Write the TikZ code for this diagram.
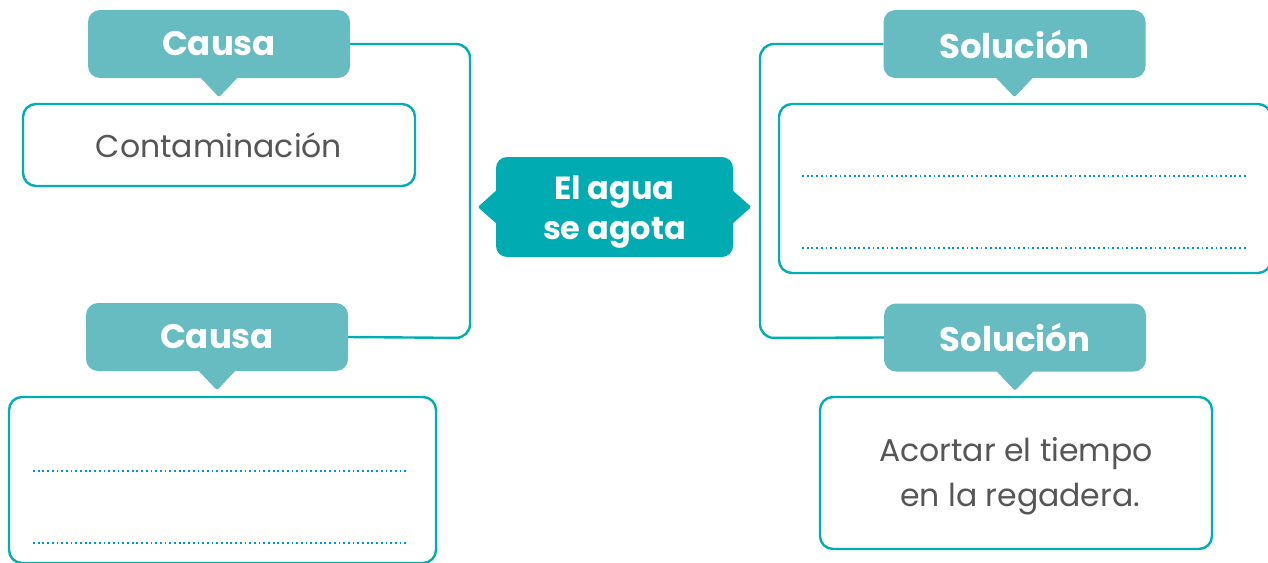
\documentclass[tikz,border=0pt]{standalone}
\usepackage{fontspec}
\setmainfont{Poppins}
\definecolor{tagfill}{RGB}{102,188,192}
\definecolor{teal}{RGB}{0,174,180}
\definecolor{hubfill}{RGB}{0,172,177}
\definecolor{dotblue}{RGB}{0,150,214}
\definecolor{txtgray}{RGB}{85,86,88}
\tikzset{
  tag/.style={fill=tagfill, rounded corners=12pt, minimum width=262pt, minimum height=68pt,
    inner sep=0pt, text=white, font=\fontsize{34}{36}\selectfont\bfseries},
  tagtip/.style={fill=tagfill, rounded corners=2pt},
  box/.style={draw=teal, line width=2.4pt, rounded corners=13pt, fill=white, inner sep=0pt,
    text=txtgray, font=\fontsize{31.5}{45}\selectfont, align=center},
  conn/.style={draw=teal, line width=2.4pt, rounded corners=14pt},
  dotline/.style={draw=dotblue, line width=1.8pt, dash pattern=on 1.8pt off 2.9pt},
  hub/.style={fill=hubfill, rounded corners=11pt, minimum width=237pt, minimum height=100pt,
    inner sep=0pt, text=white, align=center, font=\fontsize{32}{40}\selectfont\bfseries},
  hubtip/.style={fill=hubfill, rounded corners=2pt},
}
\begin{document}
\begin{tikzpicture}[x=1pt,y=-1pt]
\useasboundingbox (0,0) rectangle (1268,562);
\clip (0,0) rectangle (1268,562);
% boxes
\node[box, minimum width=392pt, minimum height=82pt] (b1) at (219,145) {Contaminación};
\node[box, minimum width=427pt, minimum height=166pt] (b2) at (222.5,480) {};
\node[box, minimum width=492pt, minimum height=169pt] (b3) at (1025,188.5) {};
\node[box, minimum width=392pt, minimum height=152pt] (b4) at (1016,473) {\rule{0pt}{31pt}Acortar el tiempo\\\ en la regadera.};
% dotted lines
\draw[dotline] (33,471) -- (409,471);
\draw[dotline] (33,543) -- (409,543);
\draw[dotline] (802,176) -- (1248,176);
\draw[dotline] (802,248) -- (1248,248);
% tags
\node[tag] (c1) at (219,44) {Causa};
\node[tag] (c2) at (217,337) {Causa};
\node[tag] (s1) at (1014.5,44) {Solución};
\node[tag] (s2) at (1015,337.5) {Solución};
\foreach \t in {c1,c2,s1,s2}{
  \fill[tagtip] ([xshift=-19pt,yshift=1pt]\t.south) -- ([yshift=-19pt]\t.south) -- ([xshift=19pt,yshift=1pt]\t.south) -- cycle;
}
% connectors
\coordinate (jl) at (470,338);
\coordinate (jr) at (760,338);
\draw[conn] (c1.east) -| (jl) -- (c2.east);
\draw[conn] (s1.west) -| (jr) -- (s2.west);
% hub
\node[hub] (hub) at (614.5,207) {\rule{0pt}{34pt}El agua\\se agota};
\fill[hubtip] ([xshift=1pt,yshift=17pt]hub.west) -- ([xshift=-18pt]hub.west) -- ([xshift=1pt,yshift=-17pt]hub.west) -- cycle;
\fill[hubtip] ([xshift=-1pt,yshift=17pt]hub.east) -- ([xshift=18pt]hub.east) -- ([xshift=-1pt,yshift=-17pt]hub.east) -- cycle;
\end{tikzpicture}
\end{document}
